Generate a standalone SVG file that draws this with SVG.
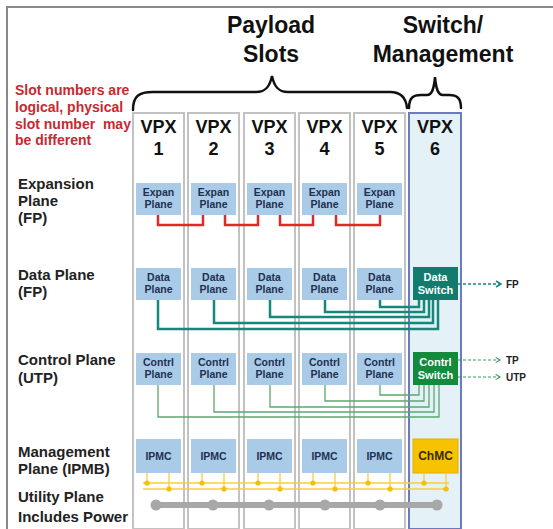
<svg xmlns="http://www.w3.org/2000/svg" width="553" height="529" viewBox="0 0 553 529">
<defs>
<style>
text{font-family:"Liberation Sans",Arial,sans-serif;font-weight:bold}
.title{font-size:23px;fill:#111;text-anchor:middle}
.note{font-size:14px;fill:#c62a2f}
.lbl{font-size:15px;fill:#222}
.vpx{font-size:18px;fill:#111;text-anchor:middle}
.slot{fill:#fff;stroke:#c2c2c2;stroke-width:2}
.slot6{fill:#e4f1f6;stroke:#6b7bbd;stroke-width:2}
.box{fill:#a9cbe8}
.bt{font-size:10.5px;fill:#1f3050;text-anchor:middle}
.wt{font-size:11px;fill:#fff;text-anchor:middle}
.sm{font-size:10px;fill:#222}
.red{fill:none;stroke:#e02828;stroke-width:2.5}
.teal{fill:none;stroke:#17877a;stroke-width:2.5}
.grn{fill:none;stroke:#5aa870;stroke-width:1.3}
.ylw{fill:none;stroke:#f5cf3c;stroke-width:1.3}
.dot{fill:#f5c000}
.brace{fill:none;stroke:#111;stroke-width:2.5;stroke-linecap:round}
</style>
<marker id="arT" viewBox="0 0 8 8" refX="6" refY="4" markerWidth="8" markerHeight="8" markerUnits="userSpaceOnUse" orient="auto"><polyline points="1,1 6,4 1,7" fill="none" stroke="#17877a" stroke-width="1.5"/></marker>
<marker id="arG" viewBox="0 0 8 8" refX="6" refY="4" markerWidth="7" markerHeight="7" markerUnits="userSpaceOnUse" orient="auto"><polyline points="1,1 6,4 1,7" fill="none" stroke="#3f9a5e" stroke-width="1.3"/></marker>
</defs>
<rect width="553" height="529" fill="#fff"/>
<path d="M7 529 V7 H553" fill="none" stroke="#8a8a8a" stroke-width="2"/>

<g id="titles">
<text class="title" x="271" y="33">Payload</text>
<text class="title" x="271" y="62">Slots</text>
<text class="title" x="443" y="33">Switch/</text>
<text class="title" x="443" y="62">Management</text>
<path class="brace" d="M133 110 C133 96 139 92 153 92 H256 C266 92 270 86 272 76 C274 86 278 92 288 92 H390 C400 92 406 97 407 108"/>
<path class="brace" d="M409 108 C409 98 413 95 421 95 H427 C432 95 434 89 435 77 C436 89 438 95 443 95 H449 C457 95 461 98 461 108"/>
</g>

<g id="note">
<text class="note" x="15" y="95">Slot numbers are</text>
<text class="note" x="15" y="112">logical, physical</text>
<text class="note" x="15" y="129" xml:space="preserve">slot number  may</text>
<text class="note" x="15" y="145">be different</text>
</g>

<g id="plane-labels">
<text class="lbl" x="18" y="189">Expansion</text>
<text class="lbl" x="18" y="206">Plane</text>
<text class="lbl" x="18" y="223">(FP)</text>
<text class="lbl" x="18" y="280">Data Plane</text>
<text class="lbl" x="18" y="297">(FP)</text>
<text class="lbl" x="18" y="365">Control Plane</text>
<text class="lbl" x="18" y="383">(UTP)</text>
<text class="lbl" x="18" y="457">Management</text>
<text class="lbl" x="18" y="474">Plane (IPMB)</text>
<text class="lbl" x="18" y="502">Utility Plane</text>
<text class="lbl" x="18" y="522">Includes Power</text>
</g>

<g id="slot1">
<rect class="slot" x="133" y="113" width="51" height="416"/>
<text class="vpx" x="158.5" y="133">VPX</text><text class="vpx" x="158.5" y="155">1</text>
<rect class="box" x="136" y="183" width="45" height="32"/><text class="bt" x="158.5" y="196">Expan</text><text class="bt" x="158.5" y="208">Plane</text>
<rect class="box" x="136" y="268" width="45" height="32"/><text class="bt" x="158.5" y="281">Data</text><text class="bt" x="158.5" y="293">Plane</text>
<rect class="box" x="136" y="353" width="45" height="32"/><text class="bt" x="158.5" y="366">Contrl</text><text class="bt" x="158.5" y="378">Plane</text>
<rect class="box" x="136" y="439" width="45" height="34"/><text class="bt" x="158.5" y="460">IPMC</text>
</g>
<g id="slot2">
<rect class="slot" x="188" y="113" width="51" height="416"/>
<text class="vpx" x="213.5" y="133">VPX</text><text class="vpx" x="213.5" y="155">2</text>
<rect class="box" x="191" y="183" width="45" height="32"/><text class="bt" x="213.5" y="196">Expan</text><text class="bt" x="213.5" y="208">Plane</text>
<rect class="box" x="191" y="268" width="45" height="32"/><text class="bt" x="213.5" y="281">Data</text><text class="bt" x="213.5" y="293">Plane</text>
<rect class="box" x="191" y="353" width="45" height="32"/><text class="bt" x="213.5" y="366">Contrl</text><text class="bt" x="213.5" y="378">Plane</text>
<rect class="box" x="191" y="439" width="45" height="34"/><text class="bt" x="213.5" y="460">IPMC</text>
</g>
<g id="slot3">
<rect class="slot" x="244" y="113" width="51" height="416"/>
<text class="vpx" x="269.5" y="133">VPX</text><text class="vpx" x="269.5" y="155">3</text>
<rect class="box" x="247" y="183" width="45" height="32"/><text class="bt" x="269.5" y="196">Expan</text><text class="bt" x="269.5" y="208">Plane</text>
<rect class="box" x="247" y="268" width="45" height="32"/><text class="bt" x="269.5" y="281">Data</text><text class="bt" x="269.5" y="293">Plane</text>
<rect class="box" x="247" y="353" width="45" height="32"/><text class="bt" x="269.5" y="366">Contrl</text><text class="bt" x="269.5" y="378">Plane</text>
<rect class="box" x="247" y="439" width="45" height="34"/><text class="bt" x="269.5" y="460">IPMC</text>
</g>
<g id="slot4">
<rect class="slot" x="299" y="113" width="51" height="416"/>
<text class="vpx" x="324.5" y="133">VPX</text><text class="vpx" x="324.5" y="155">4</text>
<rect class="box" x="302" y="183" width="45" height="32"/><text class="bt" x="324.5" y="196">Expan</text><text class="bt" x="324.5" y="208">Plane</text>
<rect class="box" x="302" y="268" width="45" height="32"/><text class="bt" x="324.5" y="281">Data</text><text class="bt" x="324.5" y="293">Plane</text>
<rect class="box" x="302" y="353" width="45" height="32"/><text class="bt" x="324.5" y="366">Contrl</text><text class="bt" x="324.5" y="378">Plane</text>
<rect class="box" x="302" y="439" width="45" height="34"/><text class="bt" x="324.5" y="460">IPMC</text>
</g>
<g id="slot5">
<rect class="slot" x="354" y="113" width="51" height="416"/>
<text class="vpx" x="379.5" y="133">VPX</text><text class="vpx" x="379.5" y="155">5</text>
<rect class="box" x="357" y="183" width="45" height="32"/><text class="bt" x="379.5" y="196">Expan</text><text class="bt" x="379.5" y="208">Plane</text>
<rect class="box" x="357" y="268" width="45" height="32"/><text class="bt" x="379.5" y="281">Data</text><text class="bt" x="379.5" y="293">Plane</text>
<rect class="box" x="357" y="353" width="45" height="32"/><text class="bt" x="379.5" y="366">Contrl</text><text class="bt" x="379.5" y="378">Plane</text>
<rect class="box" x="357" y="439" width="45" height="34"/><text class="bt" x="379.5" y="460">IPMC</text>
</g>
<g id="slot6">
<rect class="slot6" x="409" y="113" width="52" height="416"/>
<text class="vpx" x="435" y="133">VPX</text><text class="vpx" x="435" y="155">6</text>
<rect x="413" y="267" width="45" height="33" fill="#127b6e"/><text class="wt" x="435.5" y="281">Data</text><text class="wt" x="435.5" y="294">Switch</text>
<rect x="413" y="352" width="45" height="33" fill="#138a3c"/><text class="wt" x="435.5" y="366">Contrl</text><text class="wt" x="435.5" y="379">Switch</text>
<rect x="413" y="439" width="45" height="34" fill="#f7c300" stroke="#e8ae00" stroke-width="1"/><text x="435.5" y="460" font-size="12" fill="#3b2a00" text-anchor="middle">ChMC</text>
</g>

<g id="connectors">
<path class="red" d="M158 215 V225 H203 V215"/>
<path class="red" d="M225 215 V225 H258 V215"/>
<path class="red" d="M280 215 V225 H313 V215"/>
<path class="red" d="M336 215 V225 H380 V215"/>

<path class="teal" d="M158 300 V329 H438 V300"/>
<path class="teal" d="M214 300 V323 H433 V300"/>
<path class="teal" d="M270 300 V317 H429 V300"/>
<path class="teal" d="M325 300 V312 H424 V300"/>
<path class="teal" d="M380 300 V307 H419 V300"/>

<path class="grn" d="M158 385 V417 H439 V385"/>
<path class="grn" d="M214 385 V412 H434 V385"/>
<path class="grn" d="M270 385 V407 H429 V385"/>
<path class="grn" d="M325 385 V401 H424 V385"/>
<path class="grn" d="M380 385 V395 H419 V385"/>

<path d="M458 284 H501" fill="none" stroke="#17877a" stroke-width="1.5" stroke-dasharray="3 2" marker-end="url(#arT)"/>
<path d="M458 360 H500" fill="none" stroke="#3f9a5e" stroke-width="1.2" stroke-dasharray="3 2" marker-end="url(#arG)"/>
<path d="M458 377 H500" fill="none" stroke="#3f9a5e" stroke-width="1.2" stroke-dasharray="3 2" marker-end="url(#arG)"/>

<path class="ylw" d="M143 483 H449 M143 489 H449"/>
<path class="ylw" d="M147 473 V483 M169 473 V489 M202 473 V483 M224 473 V489 M258 473 V483 M280 473 V489 M313 473 V483 M335 473 V489 M368 473 V483 M390 473 V489 M424 473 V483 M446 473 V489"/>
<g class="dot">
<circle cx="147" cy="483" r="2.6"/><circle cx="169" cy="489" r="2.6"/>
<circle cx="202" cy="483" r="2.6"/><circle cx="224" cy="489" r="2.6"/>
<circle cx="258" cy="483" r="2.6"/><circle cx="280" cy="489" r="2.6"/>
<circle cx="313" cy="483" r="2.6"/><circle cx="335" cy="489" r="2.6"/>
<circle cx="368" cy="483" r="2.6"/><circle cx="390" cy="489" r="2.6"/>
<circle cx="424" cy="483" r="2.6"/><circle cx="446" cy="489" r="2.6"/>
</g>
<path d="M156 505 H437" stroke="#a8a8a8" stroke-width="6" stroke-linecap="round"/>
<g fill="#a8a8a8">
<circle cx="156" cy="505" r="5.5"/><circle cx="213" cy="505" r="5.5"/><circle cx="269" cy="505" r="5.5"/>
<circle cx="325" cy="505" r="5.5"/><circle cx="380" cy="505" r="5.5"/><circle cx="437" cy="505" r="5.5"/>
</g>
</g>

<g id="ext-labels">
<text class="sm" x="506" y="288">FP</text>
<text class="sm" x="506" y="364">TP</text>
<text class="sm" x="506" y="381">UTP</text>
</g>
</svg>
